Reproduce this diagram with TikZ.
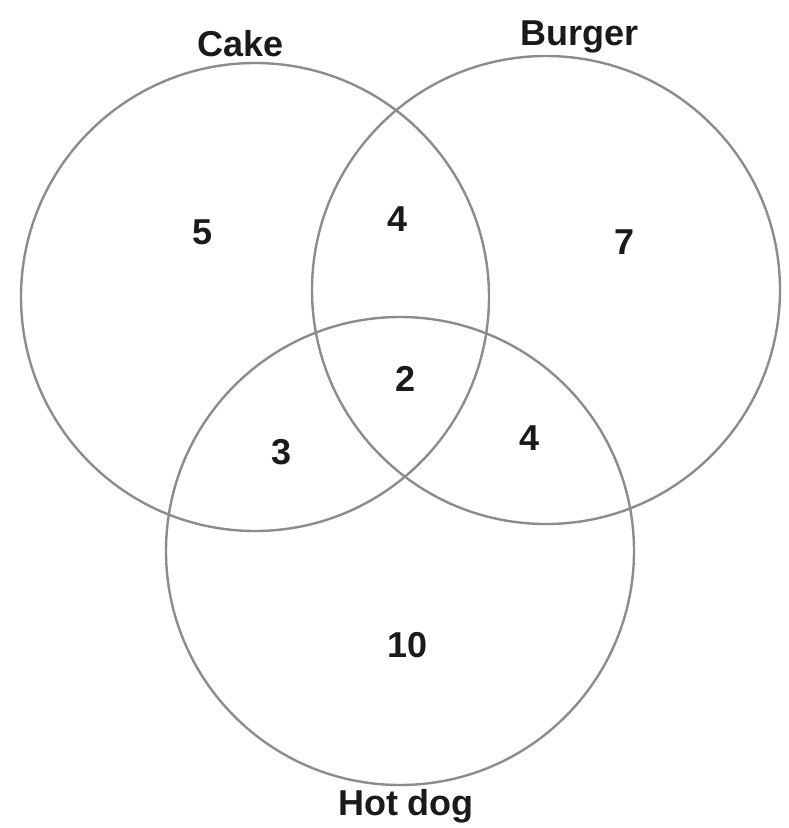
\documentclass[tikz,border=0pt]{standalone}
\usepackage{fontspec}
\setmainfont{Liberation Sans}
\usetikzlibrary{positioning}
\definecolor{vnLine}{HTML}{8C8C8C}
\definecolor{vnInk}{HTML}{1A1A1A}
\tikzset{
  vn diagram/.style={font=\fontsize{36}{40}\selectfont\bfseries, text=vnInk},
  vn set/.style={circle, draw=vnLine, line width=2.4pt,
    minimum size=468pt, inner sep=0pt},
  vn title/.style={inner sep=0pt},
  vn count/.style={inner sep=0pt}
}

\begin{document}
\begin{tikzpicture}[vn diagram,x=1pt,y=-1pt]
\useasboundingbox (0,0) rectangle (788,828);
% the three sets
\node[vn set] (cake) at (255,297) {};
\node[vn set] (burger) at (546,290) {};
\node[vn set] (hotdog) at (400,551) {};
% set names
\node[vn title] (cake title) at (241,44) {Cake};
\node[vn title] (burger title) at (580,37) {Burger};
\node[vn title] (hotdog title) at (406,806) {Hot dog};
% region counts
\node[vn count] (only cake) at (203,232) {5};
\node[vn count] (cake burger) at (398,219) {4};
\node[vn count] (only burger) at (625,242) {7};
\node[vn count] (all three) at (406,379) {2};
\node[vn count] (burger hotdog) at (530,438) {4};
\node[vn count] (cake hotdog) at (282,452) {3};
\node[vn count] (only hotdog) at (408,645) {10};
\end{tikzpicture}
\end{document}
